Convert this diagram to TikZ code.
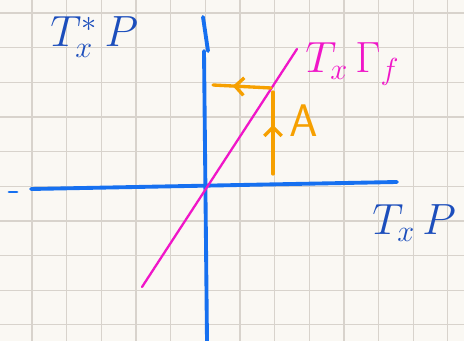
\documentclass[tikz,border=0pt]{standalone}
\usetikzlibrary{arrows.meta,decorations.markings,positioning}
\definecolor{paper}{RGB}{250,248,243}
\definecolor{gridgray}{RGB}{216,211,204}
\definecolor{axisblue}{RGB}{22,112,240}
\definecolor{labelblue}{RGB}{28,78,188}
\definecolor{graphpink}{RGB}{240,22,200}
\definecolor{projorange}{RGB}{246,160,0}

\begin{document}
\begin{tikzpicture}[x=0.02cm,y=-0.02cm,
    gridline/.style={draw=gridgray,line width=0.7pt},
    axis/.style={draw=axisblue,line width=2.2pt,line cap=round},
    graph/.style={draw=graphpink,line width=1.3pt,line cap=round},
    proj/.style={color=projorange,line width=1.9pt,line cap=round,postaction={decorate},
      decoration={markings,mark=at position #1 with {\arrow{Straight Barb[length=5pt,width=10pt,line width=1.9pt]}}}},
    lbl/.style={inner sep=0pt,anchor=base west,font=\fontsize{26}{30}\selectfont}]
    % paper and squares
    \fill[paper] (0,0) rectangle (464,341);
    \useasboundingbox (0,0) rectangle (464,341);
    \foreach \i in {0,...,13}
      \draw[gridline] ({-2.6+34.65*\i},0) -- ++(0,341);
    \foreach \j in {0,...,9}
      \draw[gridline] (0,{13+34.65*\j}) -- ++(464,0);

    % axes
    \coordinate (dash) at (9,192);
    \coordinate (dashend) at (17,192);
    \coordinate (xl) at (31,189);
    \coordinate (xr) at (397,182);
    \coordinate (ytick) at (203,17);
    \coordinate (ytickend) at (208,51);
    \coordinate (yt) at (204,51);
    \coordinate (yb) at (207,341);
    \draw[axis] (xl) -- (xr);
    \draw[axis,line width=1.6pt] (dash) -- (dashend);
    \draw[axis] (yt) -- (yb);
    \draw[axis] (ytick) -- (ytickend);

    % graph of the map
    \coordinate (g0) at (142,287);
    \coordinate (g1) at (297,49);
    \draw[graph] (g0) -- (g1);

    % projections
    \coordinate (a0) at (273,174);
    \coordinate (a1) at (273,92);
    \coordinate (b0) at (271,88);
    \coordinate (b1) at (213,85);
    \draw[proj=0.6] (a0) -- (a1);
    \draw[proj=0.66] (b0) -- (b1);

    % labels
    \node[lbl,text=labelblue] (cotan) at (50,47) {$T^*_x\,P$};
    \node[lbl,text=labelblue] (tan) at (372,235) {$T_x\,P$};
    \node[lbl,text=graphpink] (tgraph) at (305,73) {$T_x\,\Gamma_f$};
    \node[lbl,text=projorange,font=\fontsize{26}{30}\selectfont\sffamily] (amap) at (289,137) {A};
\end{tikzpicture}
\end{document}
